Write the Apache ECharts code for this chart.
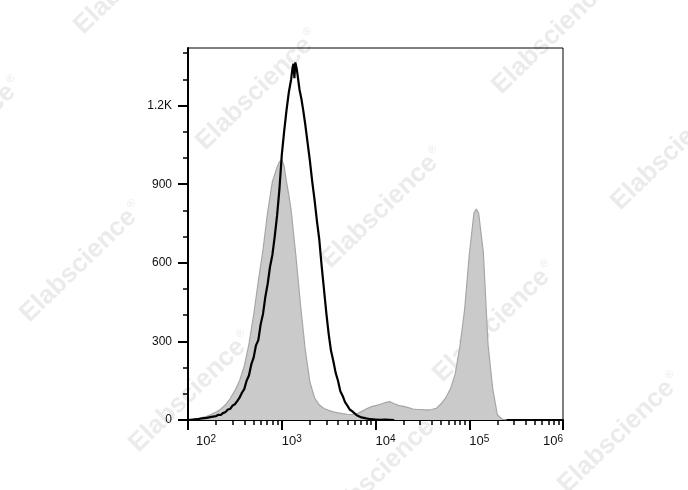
<!DOCTYPE html>
<html>
<head>
<meta charset="utf-8">
<script src="https://cdn.jsdelivr.net/npm/echarts@6/dist/echarts.min.js"></script>
<style>html,body{margin:0;padding:0;background:#fff}#c{width:688px;height:490px}</style>
</head>
<body>
<div id="c"></div>
<script>
// x positions are log10(intensity)
const grayX = [2.00,2.05,2.10,2.15,2.20,2.25,2.30,2.35,2.40,2.45,2.50,2.55,2.60,2.65,2.70,2.75,2.80,2.85,2.90,2.95,2.975,3.00,3.025,3.05,3.075,3.10,3.15,3.20,3.25,3.30,3.35,3.40,3.45,3.50,3.55,3.60,3.65,3.70,3.75,3.80,3.85,3.90,3.95,4.00,4.05,4.10,4.15,4.20,4.25,4.30,4.35,4.40,4.45,4.50,4.55,4.60,4.65,4.70,4.75,4.80,4.85,4.90,4.95,5.00,5.05,5.075,5.10,5.15,5.20,5.25,5.30,5.35,5.40];
const grayCount = [0,2,5,9,14,22,30,42,58,82,112,150,205,290,400,530,650,795,910,965,985,995,970,910,860,800,630,440,270,145,85,58,44,37,31,27,24,22,21,24,32,42,50,55,60,66,70,62,55,52,47,42,40,40,38,40,45,62,85,120,175,280,420,630,790,805,790,640,290,120,20,3,0];

const blackX = [2.00,2.05,2.10,2.15,2.20,2.25,2.30,2.325,2.35,2.375,2.40,2.425,2.45,2.475,2.50,2.525,2.55,2.575,2.60,2.625,2.65,2.675,2.70,2.725,2.75,2.775,2.80,2.825,2.85,2.875,2.90,2.925,2.95,2.975,3.00,3.025,3.05,3.075,3.10,3.115,3.125,3.135,3.145,3.16,3.175,3.19,3.21,3.23,3.25,3.275,3.30,3.325,3.35,3.375,3.40,3.425,3.45,3.475,3.50,3.525,3.55,3.575,3.60,3.625,3.65,3.675,3.70,3.725,3.75,3.80,3.85,3.90,3.95,4.00,4.05,4.10,4.15,4.20];
const blackCount = [0,2,3,6,8,12,15,20,19,27,30,40,42,55,60,72,85,104,118,150,170,212,238,285,305,365,405,470,520,585,630,700,780,880,1010,1100,1180,1250,1300,1345,1360,1305,1365,1340,1300,1260,1225,1180,1130,1060,990,910,840,760,690,590,500,410,330,265,225,180,150,110,92,68,55,40,34,18,10,6,3,2,1,2,1,0];

const xMajorValues = [2,3,4,5,6];
const xMajorExp = ['2','3','4','5','6'];
const yMajorValues = [0,300,600,900,1200];
const yMajorLabels = ['0','300','600','900','1.2K'];
const yMinorValues = [100,200,400,500,700,800,1000,1100,1300,1400];
const xMinorMultipliers = [2,3,4,5,6,7,8,9];
const watermarkText = 'Elabscience';

const xMinorValues = [];
for (let d = 2; d < 6; d++) for (const m of xMinorMultipliers) xMinorValues.push(d + Math.log10(m));

const wmCenters = [[136,-26],[-39,137],[258,90],[554,34],[383,208],[673,150],[82,262],[495,322],[191,392],[380,472],[620,433]];
const graphics = wmCenters.map(c => ({
  type: 'text', x: c[0], y: c[1], rotation: Math.PI * 44 / 180, z: -10, silent: true,
  style: {
    text: '{a|' + watermarkText + '}{r|®}', align: 'center', verticalAlign: 'middle',
    rich: {
      a: {fontFamily: 'Liberation Sans, Arial', fontWeight: 'bold', fontSize: 26, fill: '#ebebeb'},
      r: {fontFamily: 'Liberation Sans, Arial', fontSize: 11, fill: '#ebebeb', verticalAlign: 'top', padding: [0,0,14,2]}
    }
  }
}));

const chart = echarts.init(document.getElementById('c'), null, {renderer: 'canvas'});
const labelFont = 'Liberation Sans, Arial, sans-serif';
chart.setOption({
  animation: false,
  backgroundColor: '#fff',
  graphic: {elements: graphics},
  grid: {left: 188, top: 48, width: 375, height: 372, show: true, borderColor: '#000', borderWidth: 1, backgroundColor: 'transparent'},
  xAxis: [{
    type: 'value', min: 2, max: 6, interval: 1, position: 'bottom',
    axisLine: {show: true, onZero: false, lineStyle: {color: '#000', width: 2}},
    axisTick: {show: true, length: 10, customValues: xMajorValues, lineStyle: {color: '#000', width: 2}},
    splitLine: {show: false},
    axisLabel: {
      customValues: xMajorValues, margin: 14, align: 'left', alignMaxLabel: 'right', color: '#111',
      formatter: function (v) {
        const i = xMajorValues.indexOf(Math.round(v));
        const e = xMajorExp[i];
        return (i === 0 ? '{p|}' : '') + '{b|10}{s|' + e + '}';
      },
      rich: {
        p: {width: 8},
        b: {fontFamily: labelFont, fontSize: 13, color: '#111', verticalAlign: 'bottom', lineHeight: 14},
        s: {fontFamily: labelFont, fontSize: 10, color: '#111', verticalAlign: 'top', lineHeight: 11, padding: [0,0,10,0]}
      }
    }
  }, {
    type: 'value', min: 2, max: 6, position: 'bottom', gridIndex: 0,
    axisLine: {show: false},
    axisTick: {show: true, length: 5, customValues: xMinorValues, lineStyle: {color: '#000', width: 1.5}},
    axisLabel: {show: false},
    splitLine: {show: false}
  }],
  yAxis: [{
    type: 'value', min: 0, max: 1420, position: 'left',
    axisLine: {show: true, onZero: false, lineStyle: {color: '#000', width: 2}},
    axisTick: {show: true, length: 10, customValues: yMajorValues, lineStyle: {color: '#000', width: 2}},
    splitLine: {show: false},
    axisLabel: {
      customValues: yMajorValues, margin: 16, color: '#111', fontFamily: labelFont, fontSize: 12,
      formatter: function (v) { return yMajorLabels[yMajorValues.indexOf(v)]; }
    }
  }, {
    type: 'value', min: 0, max: 1420, position: 'left',
    axisLine: {show: false},
    axisTick: {show: true, length: 5, customValues: yMinorValues, lineStyle: {color: '#000', width: 1.5}},
    axisLabel: {show: false},
    splitLine: {show: false}
  }],
  series: [{
    type: 'line', xAxisIndex: 0, yAxisIndex: 0, showSymbol: false, symbol: 'none', z: 2,
    data: grayX.map((x, i) => [x, grayCount[i]]),
    lineStyle: {color: '#a6a6a6', width: 1.2},
    areaStyle: {color: '#cacaca', opacity: 1}
  }, {
    type: 'line', xAxisIndex: 0, yAxisIndex: 0, showSymbol: false, symbol: 'none', z: 3,
    data: blackX.map((x, i) => [x, blackCount[i]]),
    lineStyle: {color: '#000', width: 2.2}
  }]
});
</script>
</body>
</html>
